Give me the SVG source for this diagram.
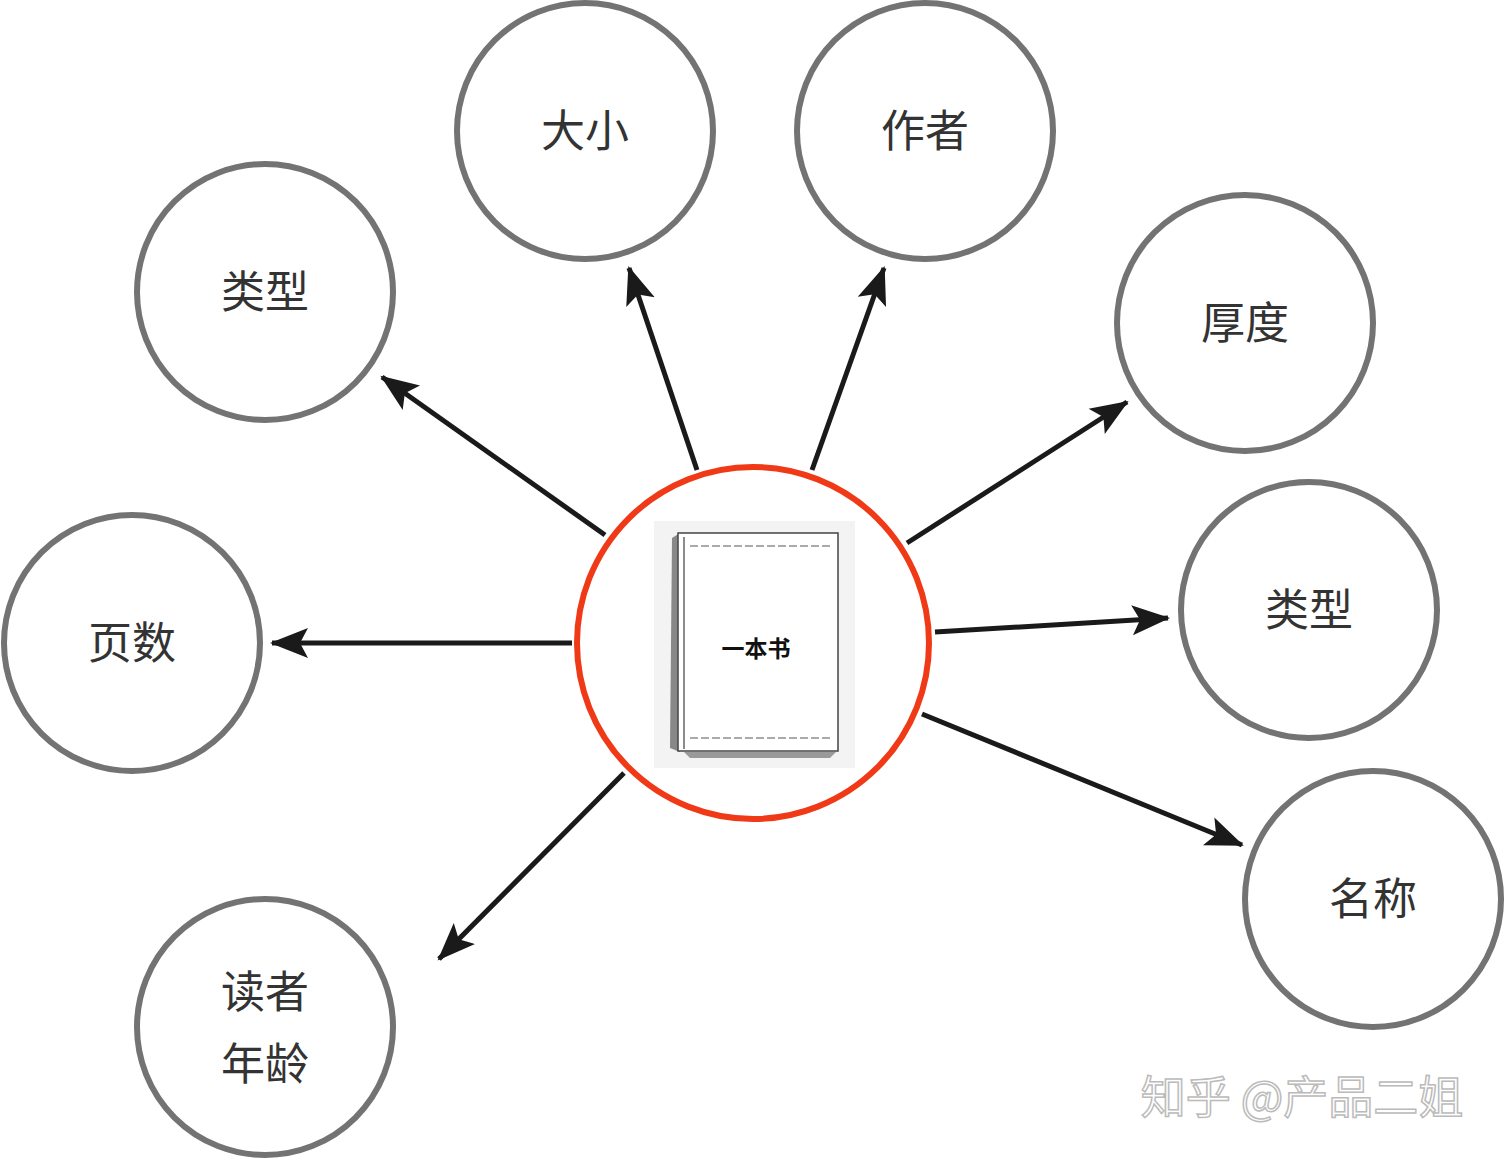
<svg xmlns="http://www.w3.org/2000/svg" width="1506" height="1160" viewBox="0 0 1506 1160">
<style>
.n{fill:#fff;stroke:#737373;stroke-width:6}
.t{font-family:"Noto Sans CJK SC","Noto Sans",sans-serif;font-size:44px;fill:#333;text-anchor:middle}
.c line{stroke:#1a1a1a;stroke-width:5;marker-end:url(#a)}
</style>
<defs><marker id="a" markerUnits="userSpaceOnUse" markerWidth="40" markerHeight="40" viewBox="0 0 40 40" refX="36" refY="20" orient="auto"><path d="M0,5 L38,20 L0,35 L8,20 Z" fill="#1a1a1a"/></marker></defs>
<rect width="1506" height="1160" fill="#fff"/>
<g class="c">
<line x1="605" y1="535" x2="382" y2="377"/>
<line x1="697" y1="470" x2="629" y2="268"/>
<line x1="812" y1="470" x2="884" y2="268"/>
<line x1="907" y1="543" x2="1127" y2="402"/>
<line x1="572" y1="643" x2="272" y2="643"/>
<line x1="935" y1="632" x2="1168" y2="618"/>
<line x1="922" y1="714" x2="1242" y2="845"/>
<line x1="624" y1="773" x2="439" y2="959"/>
</g>
<g id="n1"><circle class="n" cx="585" cy="131" r="128"/><text class="t" x="585" y="147">大小</text></g>
<g id="n2"><circle class="n" cx="925" cy="131" r="128"/><text class="t" x="925" y="147">作者</text></g>
<g id="n3"><circle class="n" cx="265" cy="292" r="128"/><text class="t" x="265" y="308">类型</text></g>
<g id="n4"><circle class="n" cx="1245" cy="323" r="128"/><text class="t" x="1245" y="339">厚度</text></g>
<g id="n5"><circle class="n" cx="132" cy="643" r="128"/><text class="t" x="132" y="659">页数</text></g>
<g id="n6"><circle class="n" cx="1309" cy="610" r="128"/><text class="t" x="1309" y="626">类型</text></g>
<g id="n7"><circle class="n" cx="1373" cy="899" r="128"/><text class="t" x="1373" y="915">名称</text></g>
<g id="n8"><circle class="n" cx="265" cy="1027" r="128"/><text class="t" x="265" y="1008">读者</text><text class="t" x="265" y="1080">年龄</text></g>
<g id="center">
<circle cx="753" cy="643" r="176" fill="#fff" stroke="#f03a17" stroke-width="6"/>
<rect x="654" y="521" width="201" height="247" fill="#f3f3f3"/>
<path d="M672,538 L680,533 L680,752 L670,748 Z" fill="#888"/>
<rect x="678" y="533" width="160" height="218" fill="#fff" stroke="#444" stroke-width="1.5"/>
<line x1="684" y1="537" x2="684" y2="749" stroke="#666" stroke-width="1.5"/>
<path d="M684,752 L836,752 L830,758 L690,758 Z" fill="#999"/>
<line x1="690" y1="546" x2="830" y2="546" stroke="#aaa" stroke-width="2" stroke-dasharray="8,3"/>
<line x1="690" y1="738" x2="830" y2="738" stroke="#aaa" stroke-width="2" stroke-dasharray="8,3"/>
<text x="756" y="657" font-family="Noto Sans CJK SC,sans-serif" font-size="23" font-weight="bold" text-anchor="middle" fill="#111">一本书</text>
</g>
<text x="1302" y="1114" font-family="Noto Sans CJK SC,sans-serif" font-size="45" text-anchor="middle" fill="#fff" stroke="#bbb" stroke-width="1.5">知乎 @产品二姐</text>
</svg>
